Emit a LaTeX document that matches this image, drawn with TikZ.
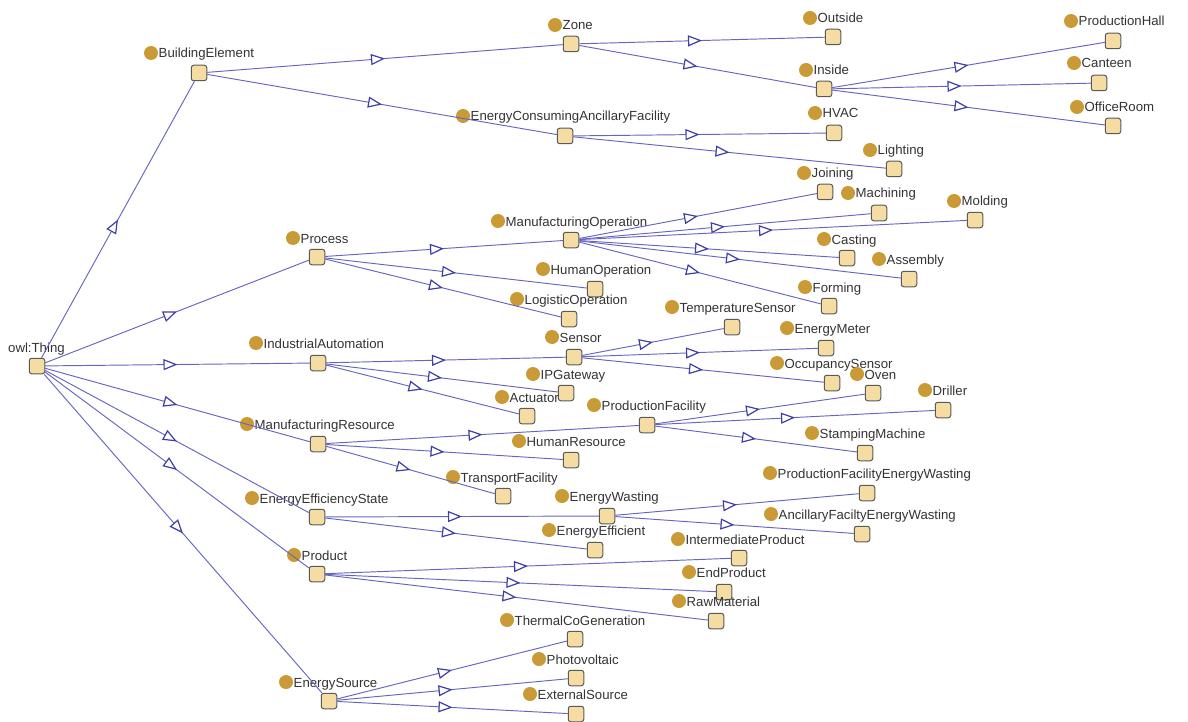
\documentclass[tikz,border=0pt]{standalone}
\usepackage{fontspec}
\setmainfont{Liberation Sans}
\usetikzlibrary{arrows.meta,decorations.markings}
\definecolor{sqfill}{HTML}{F5DCA3}
\definecolor{sqdraw}{HTML}{5A5A5A}
\definecolor{dotc}{HTML}{C99A35}
\definecolor{linec}{HTML}{6666C2}
\definecolor{arrc}{HTML}{3E3EA6}
\definecolor{txtc}{HTML}{333333}
\tikzset{
  sq/.style={draw=sqdraw, fill=sqfill, line width=1pt, rounded corners=2.5pt, minimum size=15.5pt, inner sep=0pt},
  dot/.style={circle, fill=dotc, minimum size=14pt, inner sep=0pt, draw=none},
  lab/.style={anchor=base west, inner sep=0pt, text=txtc, font=\fontsize{13.2}{14}\selectfont},
  edge/.style={draw=linec, line width=0.95pt, postaction={decorate},
    decoration={markings, mark=at position 0.5 with {\arrow{Triangle[length=14pt,width=11pt,line width=1.2pt,color=arrc,fill=white]}}}}
}
\newcommand\cls[6]{%
  \node[sq] (#1) at (#2,#3) {};
  \node[dot] (#1-dot) at (#4,#5) {};
  \node[lab] (#1-lab) at (#4+7.5,#5+5) {#6};
}
\begin{document}
\begin{tikzpicture}[x=1pt,y=-1pt]
\useasboundingbox (0,0) rectangle (1188,722);
% root
\node[sq] (thing) at (37,366) {};
\node[lab] (thing-lab) at (8,352) {owl:Thing};
% classes
\cls{be}{199}{73}{151}{53}{BuildingElement}
\cls{zone}{571}{44}{555}{25}{Zone}
\cls{outside}{833}{37}{810}{18}{Outside}
\cls{inside}{824}{89}{806}{70}{Inside}
\cls{phall}{1113}{41}{1071}{21}{ProductionHall}
\cls{canteen}{1099}{83}{1074}{63}{Canteen}
\cls{office}{1113}{126}{1077}{107}{OfficeRoom}
\cls{ecaf}{565}{136}{463}{116}{EnergyConsumingAncillaryFacility}
\cls{hvac}{834}{133}{815}{113}{HVAC}
\cls{lighting}{894}{169}{870}{150}{Lighting}
\cls{process}{317}{257}{293}{238}{Process}
\cls{mop}{571}{240}{498}{221}{ManufacturingOperation}
\cls{joining}{825}{192}{804}{173}{Joining}
\cls{machining}{879}{213}{848}{193}{Machining}
\cls{molding}{975}{220}{954}{201}{Molding}
\cls{casting}{847}{258}{824}{239}{Casting}
\cls{assembly}{909}{279}{879}{259}{Assembly}
\cls{forming}{829}{306}{805}{287}{Forming}
\cls{hop}{595}{289}{543}{269}{HumanOperation}
\cls{lop}{569}{319}{517}{299}{LogisticOperation}
\cls{ia}{318}{363}{256}{343}{IndustrialAutomation}
\cls{sensor}{574}{357}{552}{337}{Sensor}
\cls{temp}{732}{327}{672}{307}{TemperatureSensor}
\cls{emeter}{826}{348}{787}{328}{EnergyMeter}
\cls{occ}{832}{383}{777}{363}{OccupancySensor}
\cls{ipg}{566}{393}{533}{374}{IPGateway}
\cls{act}{527}{416}{502}{397}{Actuator}
\cls{mr}{318}{444}{247}{424}{ManufacturingResource}
\cls{pf}{647}{425}{594}{405}{ProductionFacility}
\cls{oven}{873}{393}{857}{374}{Oven}
\cls{driller}{943}{410}{925}{390}{Driller}
\cls{stamp}{865}{453}{812}{433}{StampingMachine}
\cls{hr}{571}{460}{519}{441}{HumanResource}
\cls{tf}{503}{496}{453}{477}{TransportFacility}
\cls{ees}{317}{517}{252}{498}{EnergyEfficiencyState}
\cls{ew}{607}{516}{562}{496}{EnergyWasting}
\cls{pfew}{867}{493}{770}{473}{ProductionFacilityEnergyWasting}
\cls{afew}{862}{534}{771}{514}{AncillaryFaciltyEnergyWasting}
\cls{eeff}{595}{550}{549}{530}{EnergyEfficient}
\cls{product}{317}{574}{294}{555}{Product}
\cls{interm}{739}{558}{678}{539}{IntermediateProduct}
\cls{endp}{724}{592}{689}{572}{EndProduct}
\cls{raw}{716}{621}{679}{601}{RawMaterial}
\cls{es}{329}{701}{286}{682}{EnergySource}
\cls{tcg}{575}{639}{507}{620}{ThermalCoGeneration}
\cls{pv}{576}{678}{539}{659}{Photovoltaic}
\cls{ext}{576}{714}{530}{694}{ExternalSource}
% edges
\draw[edge] (thing) -- (be);
\draw[edge] (thing) -- (process);
\draw[edge] (thing) -- (ia);
\draw[edge] (thing) -- (mr);
\draw[edge] (thing) -- (ees);
\draw[edge] (thing) -- (product);
\draw[edge] (thing) -- (es);
\draw[edge] (be) -- (zone);
\draw[edge] (be) -- (ecaf);
\draw[edge] (zone) -- (outside);
\draw[edge] (zone) -- (inside);
\draw[edge] (inside) -- (phall);
\draw[edge] (inside) -- (canteen);
\draw[edge] (inside) -- (office);
\draw[edge] (ecaf) -- (hvac);
\draw[edge] (ecaf) -- (lighting);
\draw[edge] (process) -- (mop);
\draw[edge] (process) -- (hop);
\draw[edge] (process) -- (lop);
\draw[edge] (mop) -- (joining);
\draw[edge] (mop) -- (machining);
\draw[edge] (mop) -- (molding);
\draw[edge] (mop) -- (casting);
\draw[edge] (mop) -- (assembly);
\draw[edge] (mop) -- (forming);
\draw[edge] (ia) -- (sensor);
\draw[edge] (ia) -- (ipg);
\draw[edge] (ia) -- (act);
\draw[edge] (sensor) -- (temp);
\draw[edge] (sensor) -- (emeter);
\draw[edge] (sensor) -- (occ);
\draw[edge] (mr) -- (pf);
\draw[edge] (mr) -- (hr);
\draw[edge] (mr) -- (tf);
\draw[edge] (pf) -- (oven);
\draw[edge] (pf) -- (driller);
\draw[edge] (pf) -- (stamp);
\draw[edge] (ees) -- (ew);
\draw[edge] (ees) -- (eeff);
\draw[edge] (ew) -- (pfew);
\draw[edge] (ew) -- (afew);
\draw[edge] (product) -- (interm);
\draw[edge] (product) -- (endp);
\draw[edge] (product) -- (raw);
\draw[edge] (es) -- (tcg);
\draw[edge] (es) -- (pv);
\draw[edge] (es) -- (ext);
\end{tikzpicture}
\end{document}
